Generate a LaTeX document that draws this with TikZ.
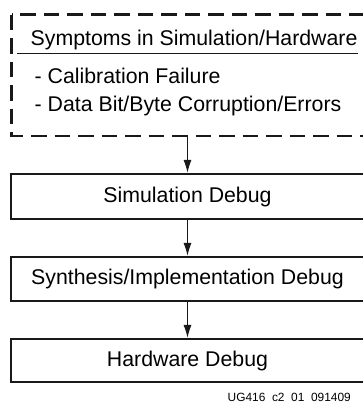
\documentclass[tikz,border=0pt]{standalone}
\usepackage{fontspec}
\setmainfont{Liberation Sans}
\usetikzlibrary{arrows.meta}
\tikzset{
  box/.style={inner sep=0pt, outer sep=0pt, minimum width=352.5pt,
              font=\fontsize{21.3}{25}\selectfont},
  boxline/.style={draw=black!90, line width=2.3pt},
  symline/.style={draw=black!90, line width=2.2pt, dash pattern=on 15.5pt off 8pt},
  symbox/.style={inner sep=0pt, outer sep=0pt, minimum width=352.5pt, minimum height=121.5pt},
  txt/.style={inner sep=0pt, anchor=base west, font=\fontsize{21.3}{25}\selectfont},
  arr/.style={draw=black!90, line width=1.1pt, shorten <=1.1pt, shorten >=1.1pt,
              -{Latex[length=13pt,width=8pt]}},
  foot/.style={inner sep=0pt, anchor=base west, font=\fontsize{11.9}{13}\selectfont}
}
\begin{document}
\begin{tikzpicture}[x=1pt,y=-1pt]
\useasboundingbox (0,0) rectangle (363,402);
\clip (0,0) rectangle (363,402);
\node[symbox] (symp) at (187.75,75.25) {};
\draw[symline] (symp.north west) rectangle ([xshift=8pt]symp.south east);
\node[txt] (head) at (30.5,45) {Symptoms in Simulation/Hardware};
\coordinate (ruleL) at (17,53.5);
\coordinate (ruleR) at (358,53.5);
\draw[line width=1.3pt, black!90] (ruleL) -- (ruleR);
\node[txt] (cal) at (34.5,83) {- Calibration Failure};
\node[txt] (data) at (34.5,111) {- Data Bit/Byte Corruption/Errors};
\node[box, minimum height=45pt] (sim) at (187.5,196.5) {Simulation Debug};
\draw[boxline] (sim.north west) rectangle ([xshift=8pt]sim.south east);
\node[box, minimum height=44pt] (syn) at (187.5,279) {Synthesis/Implementation Debug};
\draw[boxline] (syn.north west) rectangle ([xshift=8pt]syn.south east);
\node[box, minimum height=43pt] (hw) at (187.5,360.5) {Hardware Debug};
\draw[boxline] (hw.north west) rectangle ([xshift=8pt]hw.south east);
\draw[arr] (symp.south -| sim.north) -- (sim.north);
\draw[arr] (sim.south) -- (syn.north);
\draw[arr] (syn.south) -- (hw.north);
\node[foot] (id) at (227.5,401.5) {UG416\_c2\_01\_091409};
\end{tikzpicture}
\end{document}
